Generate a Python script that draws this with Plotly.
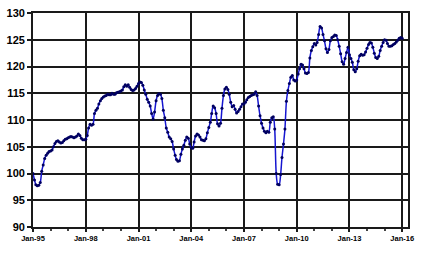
import pandas as pd
import plotly.graph_objects as go

start_month = "1995-01-01"
v1995 = [100.0, 98.8, 97.9, 97.7, 97.8, 98.3, 100.4, 101.6, 102.8, 103.4, 103.8, 104.1]
v1996 = [104.2, 104.4, 105.0, 105.6, 106.0, 106.1, 105.9, 105.7, 105.8, 106.1, 106.4, 106.5]
v1997 = [106.7, 106.8, 106.9, 106.8, 106.7, 106.8, 107.0, 107.4, 107.1, 106.6, 106.3, 106.3]
v1998 = [106.4, 107.1, 108.5, 109.2, 109.0, 109.2, 111.2, 111.8, 112.2, 113.0, 113.6, 114.0]
v1999 = [114.3, 114.5, 114.6, 114.8, 114.7, 114.7, 115.0, 114.8, 114.8, 115.1, 115.2, 115.3]
v2000 = [115.4, 115.6, 116.2, 116.6, 116.3, 116.6, 116.1, 115.7, 115.5, 115.6, 115.9, 116.3]
v2001 = [116.8, 117.1, 117.0, 116.5, 115.6, 114.8, 113.9, 113.3, 112.6, 111.2, 110.2, 111.5]
v2002 = [113.6, 114.6, 114.9, 114.8, 114.0, 111.8, 110.4, 108.5, 107.7, 106.8, 106.5, 106.0]
v2003 = [104.6, 103.4, 102.6, 102.3, 102.4, 103.6, 104.6, 105.3, 106.2, 106.8, 106.6, 105.5]
v2004 = [104.8, 104.7, 105.9, 107.0, 107.4, 107.2, 106.8, 106.3, 106.2, 106.1, 106.5, 107.6]
v2005 = [108.6, 109.6, 111.2, 112.6, 112.3, 111.2, 109.3, 108.9, 109.4, 112.2, 114.6, 115.8]
v2006 = [116.1, 115.7, 114.8, 113.3, 112.5, 112.7, 112.0, 111.3, 111.6, 112.0, 112.5, 113.0]
v2007 = [113.0, 113.3, 113.8, 114.2, 114.4, 114.6, 114.7, 114.8, 115.3, 114.6, 112.6, 110.8]
v2008 = [109.4, 108.5, 107.9, 107.6, 107.9, 107.7, 109.6, 110.4, 110.6, 108.3, 100.0, 98.0]
v2009 = [97.9, 99.8, 103.0, 105.5, 108.3, 113.5, 115.5, 116.8, 118.0, 118.3, 117.5, 117.3]
v2010 = [117.5, 118.6, 119.6, 120.4, 120.3, 119.6, 118.8, 118.7, 118.9, 121.6, 123.0, 123.7]
v2011 = [124.3, 124.0, 124.5, 126.0, 127.5, 127.2, 126.0, 124.8, 123.3, 122.6, 123.2, 124.8]
v2012 = [125.4, 125.6, 125.9, 125.8, 125.0, 123.8, 122.4, 120.9, 120.4, 121.5, 122.6, 123.6]
v2013 = [122.2, 121.5, 120.8, 119.4, 119.0, 119.6, 121.0, 122.0, 122.3, 122.1, 122.2, 122.7]
v2014 = [123.4, 124.1, 124.5, 124.4, 123.6, 122.5, 121.7, 121.5, 121.9, 123.0, 123.8, 124.5]
v2015 = [125.0, 124.9, 124.3, 123.8, 123.8, 123.9, 124.1, 124.3, 124.6, 124.9, 125.3, 125.4]
v2016 = [125.3]

values = (v1995 + v1996 + v1997 + v1998 + v1999 + v2000 + v2001 + v2002 + v2003 + v2004
          + v2005 + v2006 + v2007 + v2008 + v2009 + v2010 + v2011 + v2012 + v2013 + v2014
          + v2015 + v2016)
dates = pd.date_range(start_month, periods=len(values), freq="MS")

tick_dates = ["1995-01-01", "1998-01-01", "2001-01-01", "2004-01-01",
              "2007-01-01", "2010-01-01", "2013-01-01", "2016-01-01"]
tick_labels = ["Jan-95", "Jan-98", "Jan-01", "Jan-04", "Jan-07", "Jan-10", "Jan-13", "Jan-16"]
y_ticks = [90, 95, 100, 105, 110, 115, 120, 125, 130]

fig = go.Figure()
fig.add_trace(go.Scatter(
    x=dates, y=values, mode="lines+markers",
    line=dict(color="#1515d0", width=1.5, shape="spline", smoothing=0.8),
    marker=dict(color="#000060", size=3),
    showlegend=False, hoverinfo="skip",
))

fig.update_layout(
    width=432, height=266,
    margin=dict(l=29, r=24, t=7, b=39),
    paper_bgcolor="white", plot_bgcolor="white",
    font=dict(family="Liberation Sans, Arial, sans-serif", color="black"),
)
fig.update_xaxes(
    range=["1995-01-01", "2016-05-01"],
    tickmode="array", tickvals=tick_dates, ticktext=tick_labels,
    tickfont=dict(size=7.5, family="Liberation Sans, Arial, sans-serif", weight="bold"),
    showgrid=True, gridcolor="#1a1a1a", gridwidth=1.8,
    showline=True, linecolor="#1a1a1a", linewidth=1.8, mirror=True,
    ticks="outside", ticklen=3, tickcolor="#1a1a1a", tickwidth=1.5,
    minor=dict(dtick="M12", ticks="outside", ticklen=2, tickcolor="#444", showgrid=False),
    zeroline=False,
)
fig.update_yaxes(
    range=[90, 130], tickvals=y_ticks,
    tickfont=dict(size=11, family="Liberation Sans, Arial, sans-serif", weight="bold"),
    showgrid=True, gridcolor="#1a1a1a", gridwidth=1.8,
    showline=True, linecolor="#1a1a1a", linewidth=1.8, mirror=True,
    ticks="outside", ticklen=4, tickcolor="#1a1a1a", tickwidth=1.5,
    zeroline=False,
)

fig.write_html("out.html")
